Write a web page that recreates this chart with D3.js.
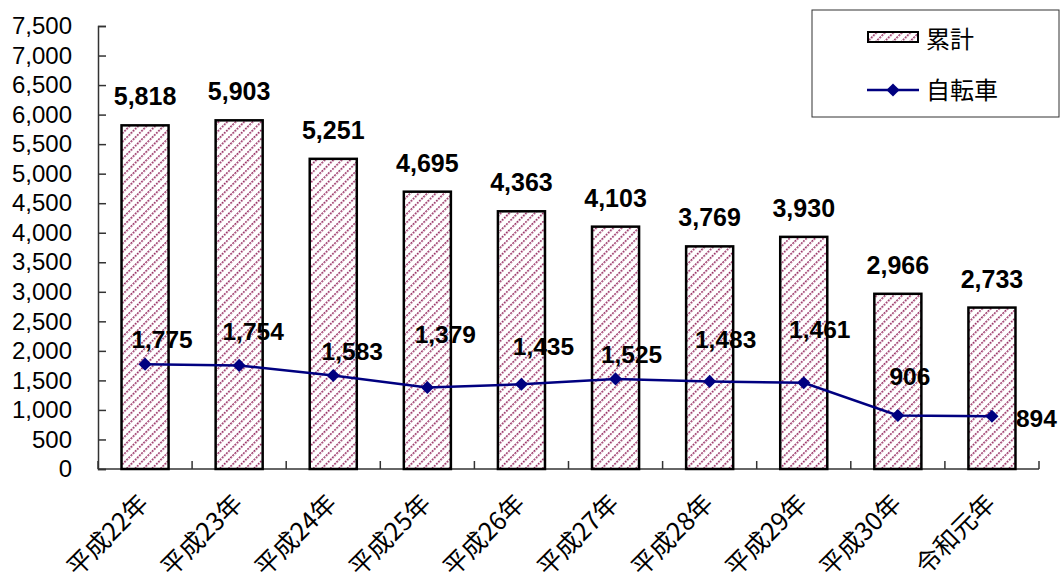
<!DOCTYPE html>
<html>
<head>
<meta charset="utf-8">
<script src="https://cdn.jsdelivr.net/npm/d3@7"></script>
<style>
  body { margin: 0; background: #fff; }
  text { font-family: "Liberation Sans", Arial, sans-serif; }
  .jp { font-family: "Noto Sans CJK JP", sans-serif; }
</style>
</head>
<body>
<svg width="1062" height="585"></svg>
<script>
var years = ['平成22年', '平成23年', '平成24年', '平成25年', '平成26年', '平成27年', '平成28年', '平成29年', '平成30年', '令和元年'];
var totals = [5818, 5903, 5251, 4695, 4363, 4103, 3769, 3930, 2966, 2733];
var bicycles = [1775, 1754, 1583, 1379, 1435, 1525, 1483, 1461, 906, 894];
var yTicks = [0, 500, 1000, 1500, 2000, 2500, 3000, 3500, 4000, 4500, 5000, 5500, 6000, 6500, 7000, 7500];

// hand-placed data label offsets for the line series (dx, dy from the point)
var lineLabelOffsets = [[17, -16], [14, -25], [19, -15], [18, -45], [22, -29], [16, -16], [16, -33], [16, -45], [12, -30], [24, 11]];

var svg = d3.select('svg');
var fmt = d3.format(',');

var x = d3.scaleBand().domain(years).range([98, 1039]).paddingInner(0).paddingOuter(0),
    y = d3.scaleLinear().domain([0, 7500]).range([469, 26]);

// hatch pattern for bars
var defs = svg.append('defs');
var pat = defs.append('pattern')
    .attr('id', 'hatch')
    .attr('patternUnits', 'userSpaceOnUse')
    .attr('width', 6).attr('height', 6)
    .attr('patternTransform', 'rotate(45)');
pat.append('rect').attr('width', 6).attr('height', 6).attr('fill', '#fff');
pat.append('line')
    .attr('x1', 0).attr('y1', 0).attr('x2', 0).attr('y2', 6)
    .attr('stroke', '#993366').attr('stroke-width', 3.2)
    .attr('stroke-dasharray', '2,1');

// y axis
var yAxis = svg.append('g')
    .attr('transform', 'translate(98,0)')
    .call(d3.axisLeft(y).tickValues(yTicks).tickSize(-8).tickPadding(26).tickFormat(fmt));
yAxis.select('.domain').attr('stroke', '#333').attr('stroke-width', 1.5);
yAxis.selectAll('.tick line').attr('stroke', '#333').attr('stroke-width', 1.5);
yAxis.selectAll('.tick text').attr('font-size', 24).attr('fill', '#000')
    .attr('font-family', '"Liberation Sans", Arial, sans-serif');

// x axis (ticks at category boundaries)
var xg = svg.append('g');
xg.append('line')
    .attr('x1', 98).attr('x2', 1039).attr('y1', 469).attr('y2', 469)
    .attr('stroke', '#333').attr('stroke-width', 1.5);
xg.selectAll('.xtick')
    .data(years.concat([null]))
    .enter().append('line')
    .attr('x1', function (d, i) { return 98 + i * x.bandwidth(); })
    .attr('x2', function (d, i) { return 98 + i * x.bandwidth(); })
    .attr('y1', 469).attr('y2', 461)
    .attr('stroke', '#333').attr('stroke-width', 1.5);
xg.selectAll('.xlab')
    .data(years)
    .enter().append('text')
    .attr('class', 'jp')
    .attr('text-anchor', 'end')
    .attr('font-size', 25)
    .attr('transform', function (d) {
        return 'translate(' + (x(d) + x.bandwidth() / 2 + 5) + ',505) rotate(-45)';
    })
    .text(function (d) { return d; });

// bars
var bw = x.bandwidth() / 2;
svg.append('g').selectAll('rect')
    .data(totals)
    .enter().append('rect')
    .attr('x', function (d, i) { return x(years[i]) + (x.bandwidth() - bw) / 2; })
    .attr('y', function (d) { return y(d); })
    .attr('width', bw)
    .attr('height', function (d) { return y(0) - y(d); })
    .attr('fill', 'url(#hatch)')
    .attr('stroke', '#000')
    .attr('stroke-width', 2.5);

// bar labels
svg.append('g').selectAll('text')
    .data(totals)
    .enter().append('text')
    .attr('x', function (d, i) { return x(years[i]) + x.bandwidth() / 2; })
    .attr('y', function (d) { return y(d) - 20; })
    .attr('text-anchor', 'middle')
    .attr('font-size', 25)
    .attr('font-weight', 'bold')
    .text(fmt);

// line series
var cx = function (d, i) { return x(years[i]) + x.bandwidth() / 2; };
var line = d3.line().x(cx).y(function (d) { return y(d); });
svg.append('path')
    .datum(bicycles)
    .attr('d', line)
    .attr('fill', 'none')
    .attr('stroke', '#000080')
    .attr('stroke-width', 2.5);
svg.append('g').selectAll('path')
    .data(bicycles)
    .enter().append('path')
    .attr('d', d3.symbol().type(d3.symbolDiamond2).size(110))
    .attr('transform', function (d, i) { return 'translate(' + cx(d, i) + ',' + y(d) + ')'; })
    .attr('fill', '#000080');

// line labels
var last = bicycles.length - 1;
svg.append('g').selectAll('text')
    .data(bicycles)
    .enter().append('text')
    .attr('x', function (d, i) { return cx(d, i) + lineLabelOffsets[i][0]; })
    .attr('y', function (d, i) { return y(d) + lineLabelOffsets[i][1]; })
    .attr('text-anchor', function (d, i) { return i === last ? 'start' : 'middle'; })
    .attr('font-size', 24.5)
    .attr('font-weight', 'bold')
    .text(fmt);

// legend
var lg = svg.append('g');
lg.append('rect')
    .attr('x', 812).attr('y', 10).attr('width', 247).attr('height', 107)
    .attr('fill', '#fff').attr('stroke', '#333').attr('stroke-width', 1);
lg.append('rect')
    .attr('x', 868).attr('y', 32).attr('width', 50).attr('height', 10)
    .attr('fill', 'url(#hatch)').attr('stroke', '#000').attr('stroke-width', 2);
lg.append('text').attr('class', 'jp')
    .attr('x', 926).attr('y', 48).attr('font-size', 24).text('累計');
lg.append('line')
    .attr('x1', 867).attr('x2', 919).attr('y1', 90).attr('y2', 90)
    .attr('stroke', '#000080').attr('stroke-width', 2.5);
lg.append('path')
    .attr('d', d3.symbol().type(d3.symbolDiamond2).size(110))
    .attr('transform', 'translate(893,90)')
    .attr('fill', '#000080');
lg.append('text').attr('class', 'jp')
    .attr('x', 926).attr('y', 99).attr('font-size', 24).text('自転車');
</script>
</body>
</html>
